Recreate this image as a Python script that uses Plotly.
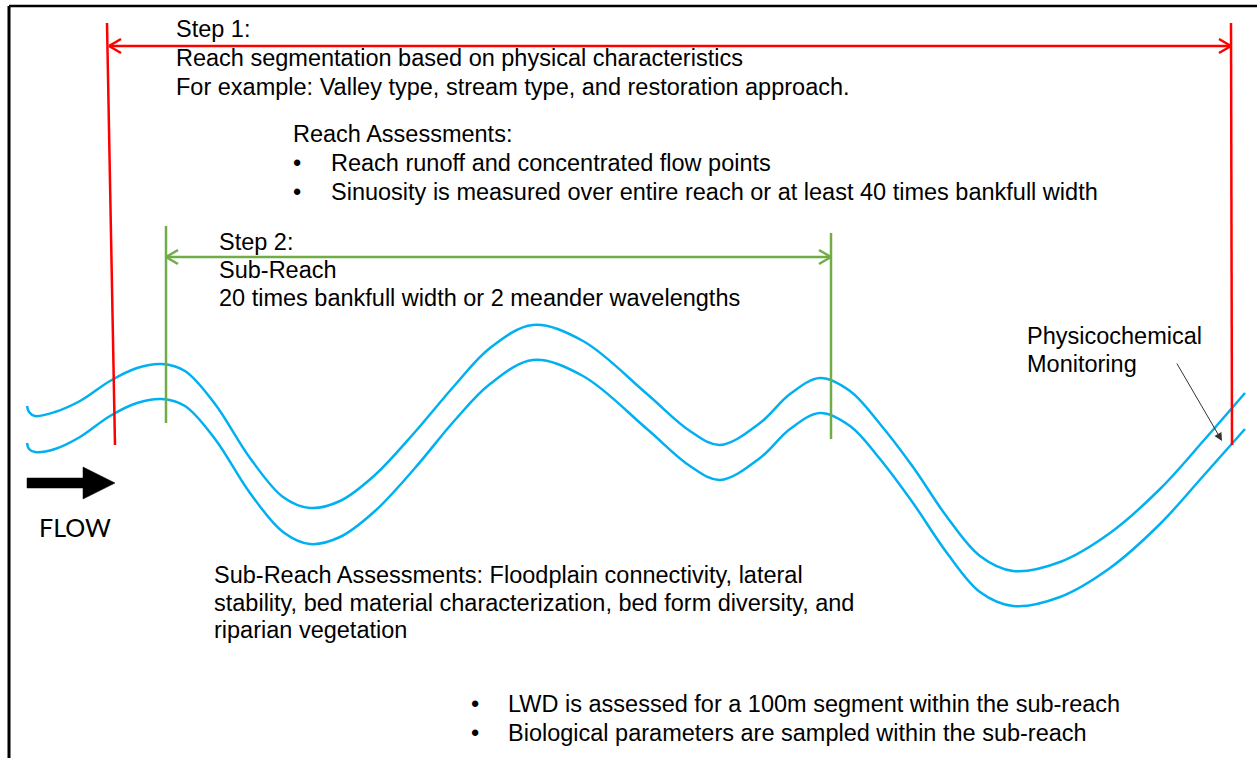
import plotly.graph_objects as go

# ---------------- data ----------------
# stream banks (pixel-space coordinates of the diagram, y grows downward)
upper_bank_x = [27, 29, 35, 55, 80, 110, 137, 162, 185, 215, 250, 283, 310, 340, 375, 415, 455, 490, 533, 583,
                647, 690, 720, 760, 790, 820, 850, 880, 913, 947, 980, 1013, 1060, 1110, 1160, 1205, 1245]
upper_bank_y = [406, 412, 416, 412, 401, 381, 368, 364, 371, 404, 458, 497, 508, 501, 475, 432, 385, 348, 325, 341,
                394, 431, 445, 423, 394, 378, 391, 424, 467, 517, 556, 571, 562, 533, 489, 439, 393]
lower_bank_x = [27, 29, 35, 55, 80, 110, 137, 162, 185, 215, 250, 283, 310, 340, 375, 415, 455, 490, 533, 583,
                647, 690, 720, 760, 790, 820, 850, 880, 913, 947, 980, 1013, 1060, 1110, 1160, 1205, 1245]
lower_bank_y = [443, 449, 452, 449, 437, 416, 403, 399, 406, 439, 493, 532, 544, 537, 511, 468, 420, 384, 360, 376,
                429, 466, 480, 458, 429, 413, 426, 459, 503, 553, 592, 606, 597, 568, 524, 474, 429]

# Step 1 reach boundaries (red) and Step 2 sub-reach boundaries (green)
reach_x_top = [107, 1231]
reach_x_bottom = [115, 1232]
reach_y = [23, 445]
reach_arrow_y = 46
subreach_x = [166, 831]
subreach_y_top = [226, 233]
subreach_y_bottom = [423, 439]
subreach_arrow_y = 257

step1_lines = ["Step 1:",
               "Reach segmentation based on physical characteristics",
               "For example: Valley type, stream type, and restoration approach."]
step1_y = [29, 58, 87]
reach_title = "Reach Assessments:"
reach_bullets = ["Reach runoff and concentrated flow points",
                 "Sinuosity is measured over entire reach or at least 40 times bankfull width"]
reach_bullet_y = [163, 192]
step2_lines = ["Step 2:", "Sub-Reach", "20 times bankfull width or 2 meander wavelengths"]
step2_y = [242, 270, 298]
phys_lines = ["Physicochemical", "Monitoring"]
phys_y = [336, 364]
subreach_lines = ["Sub-Reach Assessments: Floodplain connectivity, lateral",
                  "stability, bed material characterization, bed form diversity, and",
                  "riparian vegetation"]
subreach_text_y = [575, 603, 630]
bottom_bullets = ["LWD is assessed for a 100m segment within the sub-reach",
                  "Biological parameters are sampled within the sub-reach"]
bottom_bullet_y = [704, 733]

RED = "#FF0000"
GREEN = "#70AD47"
BLUE = "#00B0F0"
FONT = "Liberation Sans, Arial, sans-serif"
FS = 23.5

fig = go.Figure()

# stream banks
for xs, ys in [(upper_bank_x, upper_bank_y), (lower_bank_x, lower_bank_y)]:
    fig.add_trace(go.Scatter(x=xs, y=ys, mode="lines",
                             line=dict(color=BLUE, width=2.5, shape="spline", smoothing=1.0),
                             hoverinfo="skip", showlegend=False))


def line(x0, y0, x1, y1, color, width):
    fig.add_trace(go.Scatter(x=[x0, x1], y=[y0, y1], mode="lines",
                             line=dict(color=color, width=width),
                             hoverinfo="skip", showlegend=False))


def dim_arrow(xl, xr, y, color, width):
    line(xl, y, xr, y, color, width)
    # open chevron heads
    line(xl + 12, y - 7, xl, y, color, width)
    line(xl, y, xl + 12, y + 7, color, width)
    line(xr - 12, y - 7, xr, y, color, width)
    line(xr, y, xr - 12, y + 7, color, width)


# red reach boundaries
for xt, xb in zip(reach_x_top, reach_x_bottom):
    line(xt, reach_y[0], xb, reach_y[1], RED, 2.5)
dim_arrow(reach_x_top[0] + 2, reach_x_top[1], reach_arrow_y, RED, 2.5)

# green sub-reach boundaries
for x, yt, yb in zip(subreach_x, subreach_y_top, subreach_y_bottom):
    line(x, yt, x, yb, GREEN, 2.5)
dim_arrow(subreach_x[0], subreach_x[1], subreach_arrow_y, GREEN, 2.5)

# frame (top and left border)
line(9, 6, 1257, 6, "#000000", 2.5)
line(9, 6, 9, 758, "#000000", 3)

# FLOW arrow
fig.add_trace(go.Scatter(x=[27, 83, 83, 115, 83, 83, 27, 27],
                         y=[478, 478, 467, 483, 499, 488, 488, 478],
                         mode="lines", fill="toself", fillcolor="#000000",
                         line=dict(color="#000000", width=0.5),
                         hoverinfo="skip", showlegend=False))

annotations = []


def text(x, y, s, size=FS, family=FONT):
    annotations.append(dict(x=x, y=y, xref="x", yref="y", text=s, showarrow=False,
                            xanchor="left", yanchor="middle",
                            font=dict(family=family, size=size, color="#000000")))


text(37, 527, "FLOW", size=25, family="Lato, Open Sans, sans-serif")
for s, y in zip(step1_lines, step1_y):
    text(174, y, s)
text(291, y=134, s=reach_title)
for s, y in zip(reach_bullets, reach_bullet_y):
    text(291, y, "•")
    text(329, y, s)
for s, y in zip(step2_lines, step2_y):
    text(217, y, s)
for s, y in zip(phys_lines, phys_y):
    text(1025, y, s)
for s, y in zip(subreach_lines, subreach_text_y):
    text(212, y, s)
for s, y in zip(bottom_bullets, bottom_bullet_y):
    text(469, y, "•")
    text(506, y, s)

# physicochemical monitoring pointer
annotations.append(dict(x=1222, y=441, xref="x", yref="y", ax=1176, ay=362, axref="x", ayref="y",
                        text="", showarrow=True, arrowhead=2, arrowsize=1.6, arrowwidth=1,
                        arrowcolor="#333333"))

fig.update_layout(
    width=1257, height=758,
    margin=dict(l=0, r=0, t=0, b=0),
    paper_bgcolor="white", plot_bgcolor="white",
    xaxis=dict(range=[0, 1257], visible=False, fixedrange=True),
    yaxis=dict(range=[758, 0], visible=False, fixedrange=True),
    annotations=annotations,
    showlegend=False,
)

fig.write_html("out.html", config={"displayModeBar": False},
               post_script="document.body.style.margin='0';")
